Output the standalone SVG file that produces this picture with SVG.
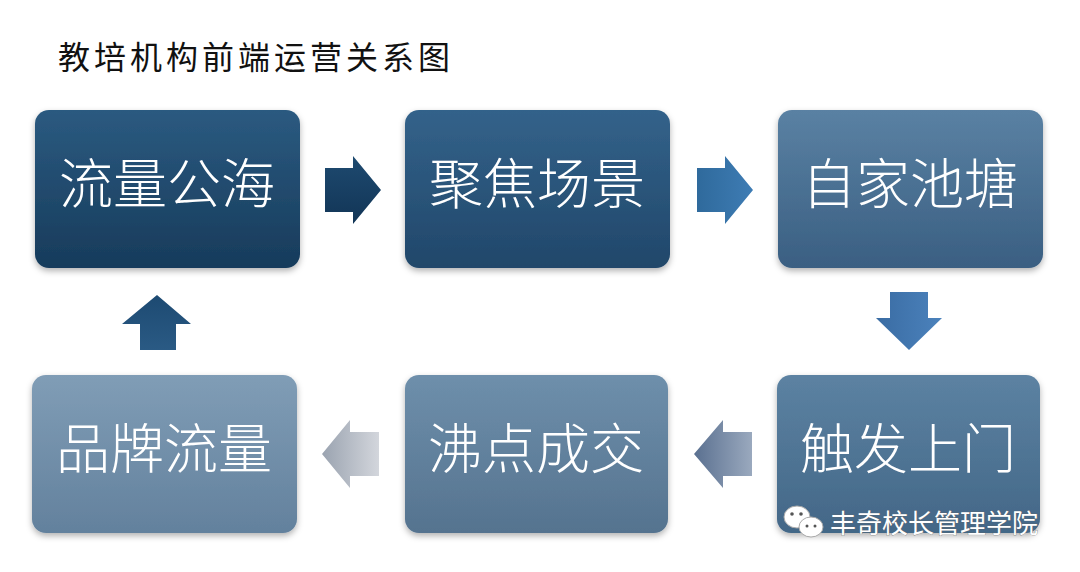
<svg xmlns="http://www.w3.org/2000/svg" width="1080" height="572" viewBox="0 0 1080 572">
<defs>
<linearGradient id="g1" x1="0" y1="0" x2="0" y2="1"><stop offset="0" stop-color="#2b5a80"/><stop offset="1" stop-color="#173b5b"/></linearGradient>
<linearGradient id="g2" x1="0" y1="0" x2="0" y2="1"><stop offset="0" stop-color="#33628a"/><stop offset="1" stop-color="#21476a"/></linearGradient>
<linearGradient id="g3" x1="0" y1="0" x2="0" y2="1"><stop offset="0" stop-color="#5a81a3"/><stop offset="1" stop-color="#3a5f82"/></linearGradient>
<linearGradient id="g4" x1="0" y1="0" x2="0" y2="1"><stop offset="0" stop-color="#5c82a2"/><stop offset="1" stop-color="#436787"/></linearGradient>
<linearGradient id="g5" x1="0" y1="0" x2="0" y2="1"><stop offset="0" stop-color="#6e8fab"/><stop offset="1" stop-color="#55738f"/></linearGradient>
<linearGradient id="g6" x1="0" y1="0" x2="0" y2="1"><stop offset="0" stop-color="#809db6"/><stop offset="1" stop-color="#63819d"/></linearGradient>
<linearGradient id="a1" x1="0" y1="0" x2="0" y2="1"><stop offset="0" stop-color="#1e4a70"/><stop offset="1" stop-color="#123556"/></linearGradient>
<linearGradient id="a2" x1="0" y1="0" x2="1" y2="0"><stop offset="0" stop-color="#2f6a9c"/><stop offset="1" stop-color="#3e7cb4"/></linearGradient>
<linearGradient id="a3" x1="0" y1="0" x2="1" y2="0"><stop offset="0" stop-color="#3a6ca3"/><stop offset="1" stop-color="#4b82bc"/></linearGradient>
<linearGradient id="a4" x1="0" y1="0" x2="1" y2="0"><stop offset="0" stop-color="#5a7090"/><stop offset="1" stop-color="#9aa9be"/></linearGradient>
<linearGradient id="a5" x1="0" y1="0" x2="1" y2="0"><stop offset="0" stop-color="#9aa3b0"/><stop offset="1" stop-color="#d3d6dc"/></linearGradient>
<linearGradient id="a6" x1="0" y1="0" x2="0" y2="1"><stop offset="0" stop-color="#1d4a72"/><stop offset="1" stop-color="#2a5a84"/></linearGradient>
<filter id="sh" x="-10%" y="-10%" width="120%" height="125%"><feDropShadow dx="0" dy="3" stdDeviation="3" flood-color="#000" flood-opacity="0.3"/></filter>
</defs>
<style>
.box{filter:url(#sh)}
.lbl{font-family:"Noto Sans CJK SC","Noto Sans CJK JP",sans-serif;font-size:54px;fill:#fff;text-anchor:middle;font-weight:300}
</style>
<rect width="1080" height="572" fill="#fff"/>
<text x="58" y="69" font-family="Noto Sans CJK SC, sans-serif" font-size="32" fill="#111" letter-spacing="4">教培机构前端运营关系图</text>
<g id="n1"><rect class="box" x="35" y="110" width="265" height="158" rx="14" fill="url(#g1)"/><text class="lbl" x="167" y="204">流量公海</text></g>
<g id="n2"><rect class="box" x="405" y="110" width="265" height="158" rx="14" fill="url(#g2)"/><text class="lbl" x="537" y="204">聚焦场景</text></g>
<g id="n3"><rect class="box" x="778" y="110" width="265" height="158" rx="14" fill="url(#g3)"/><text class="lbl" x="910" y="204">自家池塘</text></g>
<g id="n4"><rect class="box" x="777" y="375" width="263" height="158" rx="14" fill="url(#g4)"/><text class="lbl" x="908" y="469">触发上门</text></g>
<g id="n5"><rect class="box" x="405" y="375" width="263" height="158" rx="14" fill="url(#g5)"/><text class="lbl" x="536" y="469">沸点成交</text></g>
<g id="n6"><rect class="box" x="32" y="375" width="265" height="158" rx="14" fill="url(#g6)"/><text class="lbl" x="164" y="469">品牌流量</text></g>
<g id="connectors">
<polygon points="325,168 353,168 353,156 381,190 353,224 353,212 325,212" fill="url(#a1)"/>
<polygon points="697,168 725,168 725,156 753,190 725,224 725,212 697,212" fill="url(#a2)"/>
<polygon points="890,292 928,292 928,318 942,318 909,350 876,318 890,318" fill="url(#a3)"/>
<polygon points="752,432 723,432 723,420 694,454 723,488 723,476 752,476" fill="url(#a4)"/>
<polygon points="379,432 350,432 350,420 322,454 350,488 350,476 379,476" fill="url(#a5)"/>
<polygon points="140,350 176,350 176,324 191,324 157,295 122,324 140,324" fill="url(#a6)"/>
</g>
<g id="watermark">
<ellipse cx="797" cy="517" rx="13" ry="11" fill="#fff" stroke="#aaa" stroke-width="1"/>
<ellipse cx="811" cy="527" rx="12" ry="10" fill="#fff" stroke="#aaa" stroke-width="1"/>
<circle cx="792" cy="514" r="1.8" fill="#555"/><circle cx="801" cy="514" r="1.8" fill="#555"/>
<circle cx="807" cy="526" r="1.5" fill="#555"/><circle cx="815" cy="526" r="1.5" fill="#555"/>
<text x="830" y="533" font-family="Noto Sans CJK SC, sans-serif" font-size="26" fill="#fff" stroke="#666" stroke-width="0.6" paint-order="stroke">丰奇校长管理学院</text>
</g>
</svg>
